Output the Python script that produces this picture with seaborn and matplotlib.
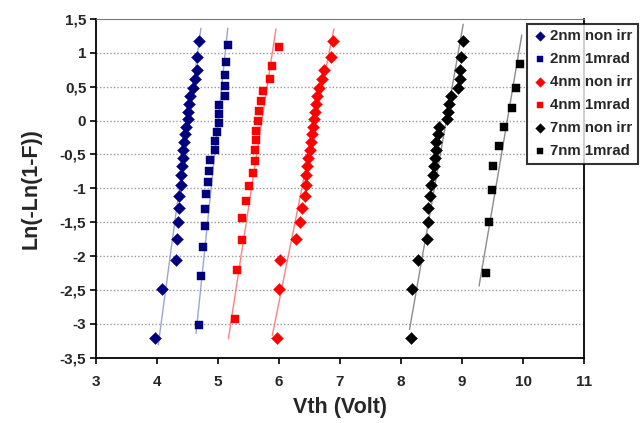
import numpy as np
import pandas as pd
import matplotlib
matplotlib.use("Agg")
import matplotlib.pyplot as plt
import seaborn as sns
from matplotlib.ticker import FuncFormatter, MultipleLocator

# Weibull plot of threshold voltages: ln(-ln(1-F)) versus Vth
series_names = ["2nm non irr", "2nm 1mrad", "4nm non irr",
                "4nm 1mrad", "7nm non irr", "7nm 1mrad"]

vth_2nm_non = [3.97, 4.08, 4.31, 4.32, 4.34, 4.36, 4.36, 4.39, 4.40, 4.41,
               4.42, 4.43, 4.45, 4.46, 4.48, 4.50, 4.51, 4.53, 4.54, 4.59,
               4.62, 4.65, 4.65, 4.69]
wb_2nm_non = [-3.20, -2.48, -2.06, -1.75, -1.50, -1.29, -1.11, -0.95, -0.81,
              -0.67, -0.55, -0.43, -0.31, -0.20, -0.09, 0.02, 0.13, 0.24,
              0.36, 0.48, 0.61, 0.75, 0.93, 1.17]

vth_2nm_1m = [4.69, 4.72, 4.76, 4.79, 4.79, 4.80, 4.84, 4.85, 4.87, 4.95,
              4.95, 4.98, 5.01, 5.02, 5.01, 5.12, 5.12, 5.12, 5.13, 5.17]
wb_2nm_1m = [-3.02, -2.30, -1.87, -1.55, -1.30, -1.09, -0.90, -0.74, -0.58,
             -0.44, -0.30, -0.17, -0.04, 0.09, 0.23, 0.36, 0.51, 0.67, 0.86,
             1.11]

vth_4nm_non = [5.96, 6.00, 6.02, 6.28, 6.34, 6.37, 6.43, 6.44, 6.45, 6.46,
               6.48, 6.51, 6.53, 6.54, 6.56, 6.58, 6.59, 6.61, 6.63, 6.65,
               6.71, 6.73, 6.86, 6.88]
wb_4nm_non = [-3.20, -2.48, -2.06, -1.75, -1.50, -1.29, -1.11, -0.95, -0.81,
              -0.67, -0.55, -0.43, -0.31, -0.20, -0.09, 0.02, 0.13, 0.24,
              0.36, 0.48, 0.61, 0.75, 0.93, 1.17]

vth_4nm_1m = [5.28, 5.31, 5.39, 5.39, 5.46, 5.50, 5.58, 5.60, 5.60, 5.62,
              5.63, 5.66, 5.68, 5.70, 5.73, 5.85, 5.88, 6.00]
wb_4nm_1m = [-2.92, -2.20, -1.76, -1.44, -1.19, -0.97, -0.78, -0.60, -0.44,
             -0.29, -0.15, 0.00, 0.14, 0.29, 0.44, 0.61, 0.81, 1.08]

vth_7nm_non = [8.16, 8.18, 8.28, 8.43, 8.45, 8.45, 8.48, 8.49, 8.52, 8.54,
               8.55, 8.57, 8.58, 8.60, 8.62, 8.76, 8.77, 8.79, 8.82, 8.94,
               8.97, 8.97, 8.98, 9.02]
wb_7nm_non = [-3.20, -2.48, -2.06, -1.75, -1.50, -1.29, -1.11, -0.95, -0.81,
              -0.67, -0.55, -0.43, -0.31, -0.20, -0.09, 0.02, 0.13, 0.24,
              0.36, 0.48, 0.61, 0.75, 0.93, 1.17]

vth_7nm_1m = [9.39, 9.44, 9.49, 9.51, 9.61, 9.69, 9.82, 9.89, 9.95]
wb_7nm_1m = [-2.25, -1.50, -1.03, -0.67, -0.37, -0.09, 0.19, 0.48, 0.83]

# Fitted trend lines (end points in Vth and ln(-ln(1-F)))
fit_x = [[4.02, 4.72], [4.64, 5.16], [5.89, 6.90],
         [5.17, 5.95], [8.14, 9.02], [9.28, 9.98]]
fit_y = [[-3.31, 1.36], [-3.14, 1.36], [-3.17, 1.35],
         [-3.22, 1.35], [-3.08, 1.42], [-2.44, 1.26]]

marker_colors = ["#00007f", "#00007f", "#ff0000", "#ff0000", "#000000", "#000000"]
marker_shapes = ["D", "s", "D", "s", "D", "s"]
line_colors = ["#9da3d6", "#9da3d6", "#ff8080", "#ff8080", "#8c8c8c", "#8c8c8c"]

xs = [vth_2nm_non, vth_2nm_1m, vth_4nm_non, vth_4nm_1m, vth_7nm_non, vth_7nm_1m]
ys = [wb_2nm_non, wb_2nm_1m, wb_4nm_non, wb_4nm_1m, wb_7nm_non, wb_7nm_1m]

frames = [pd.DataFrame({"Vth": x, "W": y, "series": n})
          for x, y, n in zip(xs, ys, series_names)]
df = pd.concat(frames, ignore_index=True)

sns.set_theme(style="white")
plt.rcParams["font.family"] = ["Liberation Sans", "DejaVu Sans"]
plt.rcParams["font.weight"] = "bold"

fig = plt.figure(figsize=(6.4, 4.23), dpi=100)
ax = fig.add_axes([0.15, 0.154, 0.7625, 0.8016])

ax.set_ylim(-3.5, 1.5)
ax.set_xlim(3, 11)
# dotted horizontal grid behind everything
for yv in np.arange(-3.0, 1.01, 0.5):
    ax.axhline(yv, color="#9a9a9a", lw=1.0, ls=(0, (1, 1.5)), zorder=0)

for (fx, fy, lc) in zip(fit_x, fit_y, line_colors):
    sns.lineplot(x=fx, y=fy, ax=ax, color=lc, lw=1.0, zorder=1,
                 sort=False, legend=False)

palette = dict(zip(series_names, marker_colors))
sizes_map = {"D": 37, "s": 36}
for name, shape in zip(series_names, marker_shapes):
    sub = df[df["series"] == name]
    sns.scatterplot(data=sub, x="Vth", y="W", ax=ax, color=palette[name],
                    marker=shape, s=sizes_map[shape], edgecolor=palette[name],
                    linewidth=0.3, zorder=3, label=name)

ax.set_xlim(3, 11)
ax.set_ylim(-3.5, 1.5)
ax.xaxis.set_major_locator(MultipleLocator(1))
ax.yaxis.set_major_locator(MultipleLocator(0.5))


def comma_fmt(v, pos):
    return f"{v:g}".replace(".", ",")


ax.xaxis.set_major_formatter(FuncFormatter(comma_fmt))
ax.yaxis.set_major_formatter(FuncFormatter(comma_fmt))
ax.tick_params(axis="both", which="major", direction="out", length=4,
               width=1.2, color="black", labelsize=11,
               bottom=True, left=True)
ax.tick_params(axis="x", pad=8)
ax.tick_params(axis="y", pad=3)
for lab in ax.get_xticklabels() + ax.get_yticklabels():
    lab.set_fontweight("bold")
for side in ["left", "bottom", "right", "top"]:
    ax.spines[side].set_color("black")
    ax.spines[side].set_linewidth(1.3)
ax.spines["top"].set_color("#777777")
ax.spines["top"].set_linewidth(0.8)

ax.set_xlabel("Vth (Volt)", fontsize=15.5, fontweight="bold", labelpad=6)
ax.set_ylabel("Ln(-Ln(1-F))", fontsize=15.5, fontweight="bold", labelpad=13)

leg = ax.legend(loc="upper left", bbox_to_anchor=(0.823, 0.943),
                bbox_transform=fig.transFigure, frameon=True, fancybox=False,
                prop={"weight": "bold", "size": 10.8}, handletextpad=0.1,
                borderpad=0.35, labelspacing=0.6, handlelength=1.1,
                borderaxespad=0, markerscale=0.8)
leg.get_frame().set_edgecolor("black")
leg.get_frame().set_linewidth(1.5)
leg.set_zorder(10)

fig.savefig("out.png", dpi=100)
